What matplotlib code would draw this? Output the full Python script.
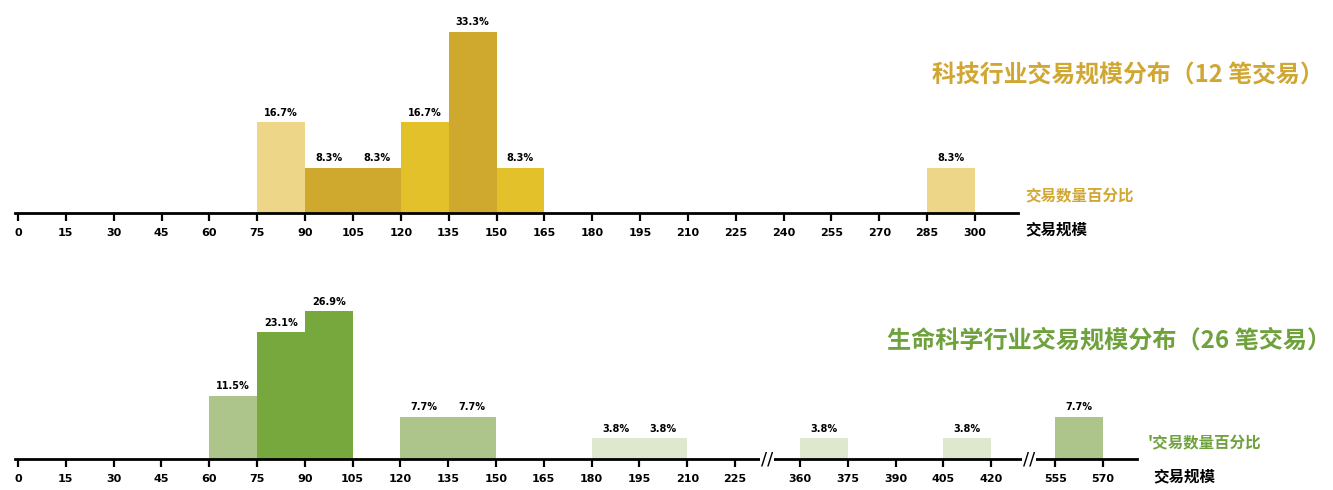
import numpy as np
import matplotlib
matplotlib.use("Agg")
import matplotlib.pyplot as plt

plt.rcParams['font.family'] = ['Noto Sans CJK SC', 'DejaVu Sans']

# ---- data ----
bin_width = 15

tech_left = [75, 90, 105, 120, 135, 150, 285]
tech_pct = [16.7, 8.3, 8.3, 16.7, 33.3, 8.3, 8.3]
tech_shade = ['light', 'mid', 'mid', 'bright', 'mid', 'bright', 'light']
tech_ticks = list(range(0, 301, 15))

life_left = [60, 75, 90, 120, 135, 180, 195, 360, 405, 555]
life_pct = [11.5, 23.1, 26.9, 7.7, 7.7, 3.8, 3.8, 3.8, 3.8, 7.7]
life_shade = ['light', 'dark', 'dark', 'light', 'light', 'pale', 'pale', 'pale', 'pale', 'light']
life_ticks = list(range(0, 226, 15)) + [360, 375, 390, 405, 420] + [555, 570]

tech_title = '科技行业交易规模分布（12 笔交易）'
life_title = '生命科学行业交易规模分布（26 笔交易）'
pct_label = '交易数量百分比'
size_label = '交易规模'

# ---- styles ----
gold = '#D1A733'
green = '#6FA23D'
tech_colors = {'light': '#EDD687', 'mid': '#CFA82E', 'bright': '#E3C12A'}
life_colors = {'light': '#ADC58A', 'dark': '#77A83E', 'pale': '#DDE8CF'}

W, H = 1333, 490
fig = plt.figure(figsize=(W / 100, H / 100), dpi=100)


def px_axes(x0, x1, ybase, ytop):
    return fig.add_axes([x0 / W, 1 - ybase / H, (x1 - x0) / W, (ybase - ytop) / H])


def style_axis(ax, ticks):
    for s in ['top', 'left', 'right']:
        ax.spines[s].set_visible(False)
    ax.spines['bottom'].set_linewidth(2)
    ax.set_yticks([])
    ax.set_xticks(ticks)
    ax.set_xticklabels([str(t) for t in ticks], fontsize=8, fontweight='bold',
                       family='DejaVu Sans')
    ax.tick_params(axis='x', direction='out', length=6, width=1.6, pad=5)
    ax.patch.set_alpha(0)


def bar_labels(ax, bars, vals):
    for b, v in zip(bars, vals):
        ax.text(b.get_x() + b.get_width() / 2, b.get_height() + 0.8, f'{v}%',
                ha='center', va='bottom', fontsize=7, fontweight='bold',
                family='DejaVu Sans')


# ---- upper: tech ----
px_per_unit = 47.85 / 15   # pixels per deal-size unit
ax1 = px_axes(15, 1018, 213, 0)
ax1.set_xlim(-3 / px_per_unit, (1018 - 18) / px_per_unit)
ax1.set_ylim(0, 213 / 5.44)
bars1 = ax1.bar(tech_left, tech_pct, width=bin_width, align='edge',
                color=[tech_colors[s] for s in tech_shade], linewidth=0)
bar_labels(ax1, bars1, tech_pct)
style_axis(ax1, tech_ticks)

# ---- lower: life sciences, broken axis ----
knot_vals = [-15, 225, 360, 420, 555, 600]
knot_slots = [-1, 15, 16.36, 20.36, 21.7, 24.7]


def fwd(v):
    return np.interp(v, knot_vals, knot_slots)


def inv(s):
    return np.interp(s, knot_slots, knot_vals)


ax2 = px_axes(15, 1137, 459, 290)
ax2.set_xscale('function', functions=(fwd, inv))
ax2.set_xlim(inv(-3 / 47.8), inv((1137 - 18) / 47.8))
ax2.set_ylim(0, 169 / 5.5)
bars2 = ax2.bar(life_left, life_pct, width=bin_width, align='edge',
                color=[life_colors[s] for s in life_shade], linewidth=0)
bar_labels(ax2, bars2, life_pct)
style_axis(ax2, life_ticks)

# break marks on the axis line
for slot in [(767 - 18) / 47.8, (1029 - 18) / 47.8]:
    ax2.text(inv(slot), 0, '//', ha='center', va='center', fontsize=13,
             family='DejaVu Sans', transform=ax2.get_xaxis_transform(),
             bbox=dict(facecolor='white', edgecolor='none', pad=0.5), zorder=5,
             clip_on=False)

# ---- titles and labels ----
def ftext(x, y, s, **kw):
    fig.text(x / W, 1 - y / H, s, va='center', fontweight='bold', **kw)


ftext(932, 75, tech_title, ha='left', fontsize=17.2, color=gold)
ftext(1025, 196, pct_label, ha='left', fontsize=11.2, color=gold)
ftext(1025, 229, size_label, ha='left', fontsize=11.2, color='black')

ftext(887, 340, life_title, ha='left', fontsize=17.4, color=green)
ftext(1148, 443, "'" + pct_label, ha='left', fontsize=11.2, color=green)
ftext(1153, 476, size_label, ha='left', fontsize=11.2, color='black')

fig.savefig('out.png', dpi=100)
